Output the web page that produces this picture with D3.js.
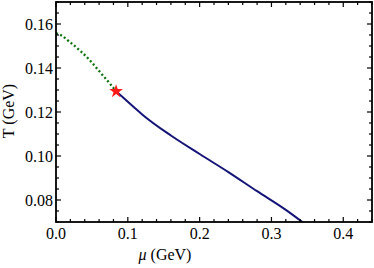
<!DOCTYPE html>
<html><head><meta charset="utf-8">
<script src="https://cdn.jsdelivr.net/npm/d3@7"></script>
<style>body{margin:0;background:#fff}svg{display:block}</style>
</head><body>
<script>
const greenMu = [0, 0.003, 0.0195, 0.0335, 0.0474, 0.0614, 0.0753, 0.0837];
const greenT  = [0.1557, 0.1555, 0.1517, 0.1479, 0.1434, 0.1381, 0.1328, 0.1294];
const blueMu = [0.0837, 0.1078, 0.1200, 0.1600, 0.2000, 0.2400, 0.2800, 0.3200, 0.3450];
const blueT  = [0.1294, 0.1224, 0.1189, 0.1093, 0.1009, 0.0927, 0.0840, 0.0755, 0.0695];
const starPoint = [0.0837, 0.1294];
const xTicks = [0.0, 0.1, 0.2, 0.3, 0.4];
const yTicks = [0.08, 0.10, 0.12, 0.14, 0.16];

const W = 374, H = 268;
const m = {left: 56, right: 2, top: 2, bottom: 46};
const svg = d3.select("body").append("svg").attr("width", W).attr("height", H);
const x = d3.scaleLinear().domain([0, 0.44]).range([m.left, W - m.right]);
const y = d3.scaleLinear().domain([0.07, 0.17]).range([H - m.bottom, m.top]);
const font = "'Liberation Serif', 'Times New Roman', serif";

svg.append("defs").append("clipPath").attr("id", "clip")
  .append("rect").attr("x", m.left).attr("y", m.top)
  .attr("width", W - m.left - m.right).attr("height", H - m.top - m.bottom);

const plot = svg.append("g").attr("clip-path", "url(#clip)");
const line = d3.line().x(d => x(d[0])).y(d => y(d[1])).curve(d3.curveMonotoneX);

plot.append("path").datum(greenMu.map((v, i) => [v, greenT[i]]))
  .attr("d", line).attr("fill", "none").attr("stroke", "#0a720a")
  .attr("stroke-width", 2.3).attr("stroke-dasharray", "2,2.4");
plot.append("path").datum(blueMu.map((v, i) => [v, blueT[i]]))
  .attr("d", line).attr("fill", "none").attr("stroke", "#141478")
  .attr("stroke-width", 2);

svg.append("path").attr("d", d3.symbol().type(d3.symbolStar).size(58)())
  .attr("transform", `translate(${x(starPoint[0])},${y(starPoint[1])})`)
  .attr("fill", "#ff1a1a");

// ticks (inward, all four sides)
const xMinor = d3.range(0, 0.4401, 0.02).filter(v => !xTicks.some(t => Math.abs(t - v) < 1e-9));
const yMinor = d3.range(0.07, 0.1701, 0.005).filter(v => !yTicks.some(t => Math.abs(t - v) < 1e-9));
const tg = svg.append("g").attr("stroke", "#000").attr("stroke-width", 1.2);
const x0 = m.left, x1 = W - m.right, y0 = H - m.bottom, y1 = m.top;
function xt(vals, len) {
  vals.forEach(v => {
    tg.append("line").attr("x1", x(v)).attr("x2", x(v)).attr("y1", y0).attr("y2", y0 - len);
    tg.append("line").attr("x1", x(v)).attr("x2", x(v)).attr("y1", y1).attr("y2", y1 + len);
  });
}
function yt(vals, len) {
  vals.forEach(v => {
    tg.append("line").attr("y1", y(v)).attr("y2", y(v)).attr("x1", x0).attr("x2", x0 + len);
    tg.append("line").attr("y1", y(v)).attr("y2", y(v)).attr("x1", x1).attr("x2", x1 - len);
  });
}
xt(xTicks, 5); xt(xMinor, 3); yt(yTicks, 5); yt(yMinor, 3);

svg.append("rect").attr("x", x0).attr("y", y1).attr("width", x1 - x0).attr("height", y0 - y1)
  .attr("fill", "none").attr("stroke", "#000").attr("stroke-width", 1.8);

svg.append("g").selectAll("text").data(xTicks).join("text")
  .attr("x", d => x(d)).attr("y", y0 + 16.5).attr("text-anchor", "middle")
  .attr("font-family", font).attr("font-size", 16).text(d => d.toFixed(1));
svg.append("g").selectAll("text").data(yTicks).join("text")
  .attr("x", x0 - 3).attr("y", d => y(d) + 5.5).attr("text-anchor", "end")
  .attr("font-family", font).attr("font-size", 16).text(d => d.toFixed(2));

const xl = svg.append("text").attr("x", 165).attr("y", 260).attr("text-anchor", "middle")
  .attr("font-family", font).attr("font-size", 16);
xl.append("tspan").attr("font-style", "italic").text("μ");
xl.append("tspan").text(" (GeV)");

svg.append("text").attr("transform", `translate(13.5,111) rotate(-90)`)
  .attr("text-anchor", "middle").attr("font-family", font).attr("font-size", 16)
  .text("T (GeV)");
</script>
</body></html>
